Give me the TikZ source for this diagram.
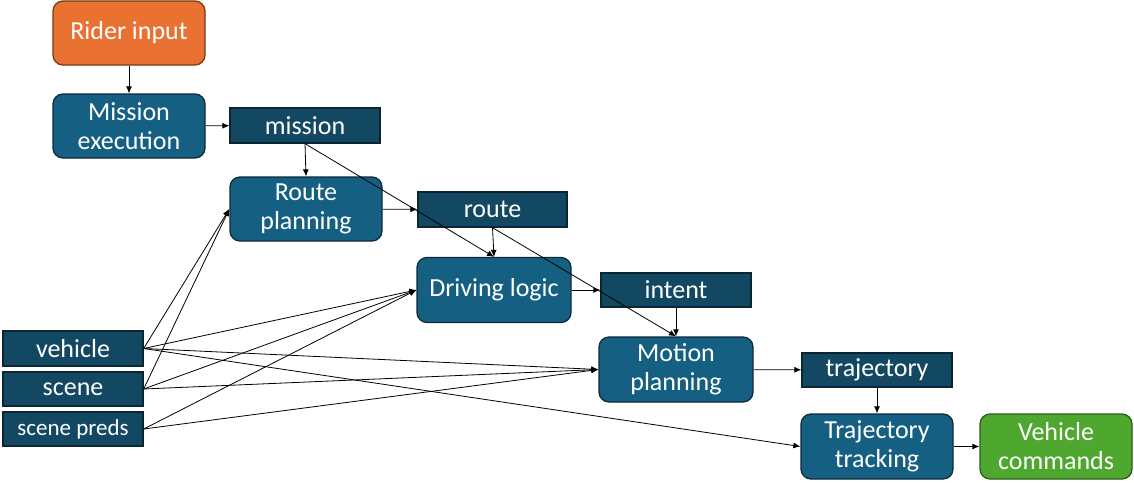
\documentclass[tikz,border=0pt]{standalone}
\usepackage{fontspec}
\setmainfont{Carlito}
\usetikzlibrary{arrows.meta}
\definecolor{procblue}{HTML}{156082}
\definecolor{procedge}{HTML}{0E2A3B}
\definecolor{datablue}{HTML}{124862}
\definecolor{dataedge}{HTML}{0B2533}
\definecolor{orangefill}{HTML}{E97132}
\definecolor{orangeedge}{HTML}{7A3A12}
\definecolor{greenfill}{HTML}{4EA72E}
\definecolor{greenedge}{HTML}{2A5E18}
\tikzset{
  proc/.style={draw=procedge, fill=procblue, line width=1.3pt, rounded corners=10pt,
    minimum width=152pt, minimum height=64pt, inner sep=0pt, text=white,
    align=center, font=\fontsize{26}{29}\selectfont},
  data/.style={draw=dataedge, fill=datablue, line width=1.3pt,
    minimum width=150pt, minimum height=35pt, inner sep=0pt, text=white,
    align=center, font=\fontsize{26}{29}\selectfont},
  startbox/.style={proc, fill=orangefill, draw=orangeedge},
  endbox/.style={proc, fill=greenfill, draw=greenedge},
  conn/.style={-{Latex[length=7pt,width=6pt]}, line width=0.8pt, black},
}
\begin{document}
\begin{tikzpicture}[x=1pt, y=-1pt]
\useasboundingbox (0,0) rectangle (1134,482);
\node[startbox] (rider) at (129,33) {Rider input};
\node[proc] (mexec) at (129,126) {Mission\\execution};
\node[data] (mission) at (305,125.5) {mission};
\node[proc] (rplan) at (306,209) {Route\\planning};
\node[data, minimum width=149pt] (route) at (492.5,209.5) {route};
\node[proc, minimum width=154pt, minimum height=65pt] (drive) at (494,290) {Driving logic};
\node[data, minimum height=34pt] (intent) at (676,290) {intent};
\node[proc, minimum width=154pt, minimum height=65pt] (motion) at (676,369.5) {Motion\\planning};
\node[data, minimum height=34pt] (traj) at (877,370) {trajectory};
\node[proc, minimum height=65pt] (track) at (877,446.5) {Trajectory\\tracking};
\node[endbox, minimum height=65pt] (vcmd) at (1056,446.5) {Vehicle\\commands};
\node[data, minimum width=140pt] (vehicle) at (73,348.5) {vehicle};
\node[data, minimum width=140pt, minimum height=34pt] (scene) at (73,389) {scene};
\node[data, minimum width=140pt, minimum height=34pt, font=\fontsize{23}{27}\selectfont] (spreds) at (73,429) {scene preds};

\draw[conn] (rider) -- (mexec);
\draw[conn] (mexec) -- (mission);
\draw[conn] (mission.south) -- (rplan.north);
\draw[conn] (mission.south) -- (drive.north);
\draw[conn] (rplan) -- (route);
\draw[conn] (route.south) -- (drive.north);
\draw[conn] (route.south) -- (motion.north);
\draw[conn] (drive) -- (intent);
\draw[conn] (intent) -- (motion);
\draw[conn] (motion) -- (traj);
\draw[conn] (traj) -- (track);
\draw[conn] (track) -- (vcmd);

\draw[conn] (vehicle.east) -- (rplan.west);
\draw[conn] (vehicle.east) -- (drive.west);
\draw[conn] (vehicle.east) -- (motion.west);
\draw[conn] (vehicle.east) -- (track.west);
\draw[conn] (scene.east) -- (rplan.west);
\draw[conn] (scene.east) -- (drive.west);
\draw[conn] (scene.east) -- (motion.west);
\draw[conn] (spreds.east) -- (drive.west);
\draw[conn] (spreds.east) -- (motion.west);
\end{tikzpicture}
\end{document}
